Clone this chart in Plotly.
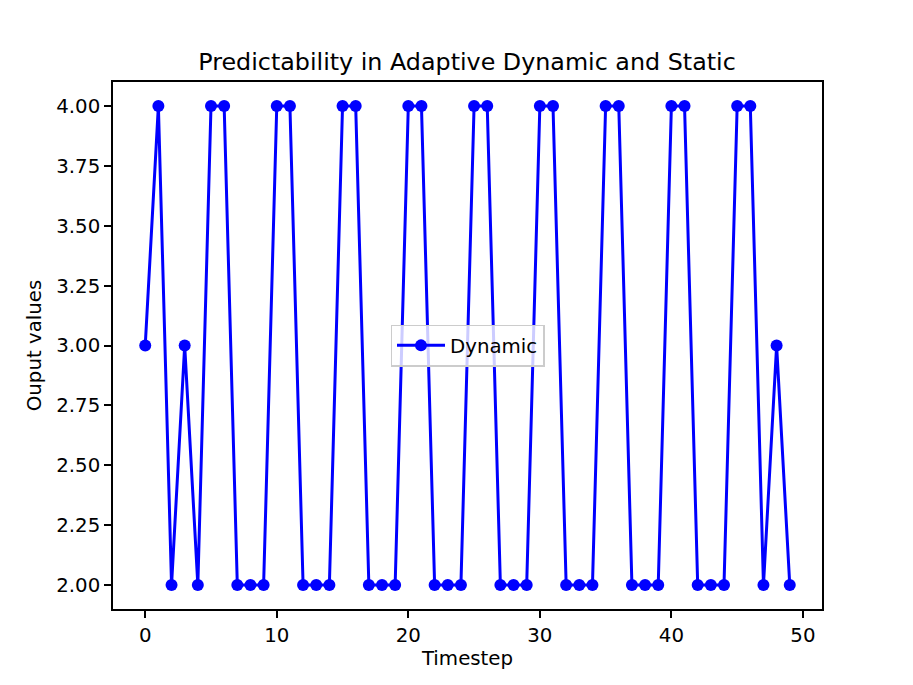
import plotly.graph_objects as go

# timestep and output values
timestep = list(range(50))
dynamic = [3, 4, 2, 3, 2, 4, 4, 2, 2, 2,
           4, 4, 2, 2, 2, 4, 4, 2, 2, 2,
           4, 4, 2, 2, 2, 4, 4, 2, 2, 2,
           4, 4, 2, 2, 2, 4, 4, 2, 2, 2,
           4, 4, 2, 2, 2, 4, 4, 2, 3, 2]
y_ticks = [2.00, 2.25, 2.50, 2.75, 3.00, 3.25, 3.50, 3.75, 4.00]
x_ticks = [0, 10, 20, 30, 40, 50]

fig = go.Figure(
    data=[
        go.Scatter(
            x=timestep,
            y=dynamic,
            mode='lines+markers',
            name='Dynamic',
            line=dict(color='blue', width=3),
            marker=dict(color='blue', size=12),
        )
    ]
)

# page body adds ~8px offset, so margins are trimmed to compensate
fig.update_layout(
    width=913,
    height=685,
    paper_bgcolor='white',
    plot_bgcolor='white',
    font=dict(family='DejaVu Sans', size=19.8, color='black'),
    margin=dict(l=105, r=99, t=74, b=84, autoexpand=False),
    title=dict(
        text='Predictability in Adaptive Dynamic and Static',
        x=(467 - 8) / 913, xanchor='center',
        y=1 - 54 / 685, yanchor='middle',
        font=dict(size=23.8),
    ),
    showlegend=True,
    legend=dict(
        x=0.5, y=0.5, xanchor='center', yanchor='middle',
        bgcolor='rgba(255,255,255,0.8)',
        bordercolor='#cccccc', borderwidth=1.5,
        font=dict(size=19.8),
        itemwidth=48,
    ),
)

fig.update_xaxes(
    title=dict(text='Timestep', font=dict(size=19.8), standoff=6),
    range=[-2.45, 51.45],
    tickvals=x_ticks,
    ticks='outside', ticklen=7, tickwidth=1.5, tickcolor='black',
    showline=True, linecolor='black', linewidth=1.5, mirror=True,
    showgrid=False, zeroline=False,
)
fig.update_yaxes(
    title=dict(text='Ouput values', font=dict(size=19.8), standoff=9),
    range=[1.9, 4.1],
    tickvals=y_ticks,
    tickformat='.2f',
    ticks='outside', ticklen=7, tickwidth=1.5, tickcolor='black',
    showline=True, linecolor='black', linewidth=1.5, mirror=True,
    showgrid=False, zeroline=False,
)

fig.write_html("out.html")
